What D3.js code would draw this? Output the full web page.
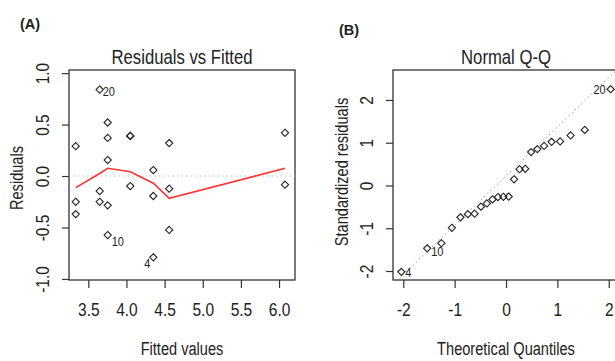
<!DOCTYPE html>
<html>
<head>
<meta charset="utf-8">
<script src="https://cdn.jsdelivr.net/npm/d3@7"></script>
<style>
  body { margin: 0; background: #fff; }
  svg text { font-family: "Liberation Sans", Arial, sans-serif; fill: #222; }
</style>
</head>
<body>
<div id="chart"></div>
<script>

// (A) residuals vs fitted
const fittedA = [3.335,3.335,3.335, 3.649,3.649,3.649, 3.754,3.754,3.754,3.754,3.754,
	4.05,4.05,4.05, 4.352,4.352,4.352, 4.56,4.56,4.56, 6.078,6.078];
const residA = [0.29,-0.25,-0.37, 0.84,-0.146,-0.25, 0.52,0.37,0.155,-0.285,-0.573,
	0.39,0.39,-0.097, 0.058,-0.194,-0.79, 0.32,-0.123,-0.524, 0.42,-0.084];
const idA = ["","","", "20","","", "","","","","10", "","","", "","","4", "","","", "",""];
const smoothX = [3.335, 3.649, 3.754, 4.05, 4.352, 4.56, 6.078];
const smoothY = [-0.113, 0.025, 0.075, 0.042, -0.07, -0.217, 0.075];
const xTicksA = [3.5, 4.0, 4.5, 5.0, 5.5, 6.0];
const yTicksA = [-1.0, -0.5, 0.0, 0.5, 1.0];

// (B) normal Q-Q
const theoQ = [-2.037,-1.534,-1.258,-1.054,-0.887,-0.742,-0.611,-0.489,-0.374,-0.264,-0.157,-0.052,
	0.052,0.157,0.264,0.374,0.489,0.611,0.742,0.887,1.054,1.258,1.534,2.037];
const stdResid = [-2.02,-1.47,-1.35,-0.99,-0.745,-0.67,-0.66,-0.495,-0.42,-0.325,-0.27,-0.265,
	-0.26,0.145,0.38,0.39,0.78,0.85,0.925,1.02,1.03,1.17,1.30,2.25];
const idB = ["4","10","","","","","","","","","","", "","","","","","","","","","","","20"];
const qqIntercept = 0.22, qqSlope = 1.15;
const xTicksB = [-2, -1, 0, 1, 2];
const yTicksB = [-2, -1, 0, 1, 2];

const W = 615, H = 361;
const S = 1.22; // tall narrow look of the R text
const svg = d3.select("#chart").append("svg")
	.attr("width", W)
	.attr("height", H);

svg.append("rect").attr("width", W).attr("height", H).attr("fill", "#fff");

const diamond = "M0,-3.6L3.6,0L0,3.6L-3.6,0Z";

function panel(o) {
	const g = svg.append("g");
	const x = d3.scaleLinear().domain(o.xDom).range([o.l, o.r]);
	const y = d3.scaleLinear().domain(o.yDom).range([o.b, o.t]);

	const clipId = "clip" + o.key;
	g.append("clipPath").attr("id", clipId)
		.append("rect")
		.attr("x", o.l).attr("y", o.t)
		.attr("width", o.r - o.l).attr("height", o.b - o.t);

	// x axis
	const xa = g.append("g")
		.attr("transform", `translate(0,${o.b})`)
		.call(d3.axisBottom(x).tickValues(o.xTicks).tickSize(8).tickFormat(o.fmt));
	xa.select(".domain").remove();
	xa.selectAll("line").attr("stroke", "#333").attr("stroke-width", 1.2);
	xa.selectAll("text")
		.attr("y", null).attr("dy", null)
		.attr("transform", `translate(0,36) scale(1,${S})`)
		.style("font-size", "15.5px");

	// y axis with rotated labels like R
	const ya = g.append("g")
		.attr("transform", `translate(${o.l},0)`)
		.call(d3.axisLeft(y).tickValues(o.yTicks).tickSize(7).tickFormat(o.fmt));
	ya.select(".domain").remove();
	ya.selectAll("line").attr("stroke", "#333").attr("stroke-width", 1.2);
	ya.selectAll("text")
		.attr("x", null).attr("dy", null)
		.attr("text-anchor", "middle")
		.attr("transform", `translate(-20,0) rotate(-90) scale(1,${S})`)
		.style("font-size", "15.5px");

	// box
	g.append("rect")
		.attr("x", o.l).attr("y", o.t)
		.attr("width", o.r - o.l).attr("height", o.b - o.t)
		.attr("fill", "none")
		.attr("stroke", "#333")
		.attr("stroke-width", 1.3);

	g.append("text")
		.attr("transform", `translate(${(o.l + o.r) / 2},64) scale(1,${S})`)
		.attr("text-anchor", "middle")
		.style("font-size", "16.7px")
		.text(o.title);

	g.append("text")
		.attr("transform", `translate(${(o.l + o.r) / 2},355) scale(1,${S})`)
		.attr("text-anchor", "middle")
		.style("font-size", "14.6px")
		.text(o.xTitle);

	g.append("text")
		.attr("transform", `translate(${o.yTitleX},${o.yTitleY}) rotate(-90) scale(1,${S})`)
		.attr("text-anchor", "middle")
		.style("font-size", "14.6px")
		.text(o.yTitle);

	return {g, x, y, clipId};
}

const fmt1 = d => d.toFixed(1);
const fmt0 = d => String(d);

// ---- panel A
const A = panel({key: "A", l: 69, r: 295, t: 70, b: 280,
	xDom: [3.247, 6.209], yDom: [-1.01, 1.03],
	xTicks: xTicksA, yTicks: yTicksA, fmt: fmt1,
	title: "Residuals vs Fitted", xTitle: "Fitted values", yTitle: "Residuals",
	yTitleX: 23, yTitleY: 178});

A.g.append("line")
	.attr("x1", 69).attr("x2", 295)
	.attr("y1", A.y(0)).attr("y2", A.y(0))
	.attr("stroke", "#bbb")
	.attr("stroke-dasharray", "1.5,3");

A.g.append("path")
	.datum(smoothX.map((d, i) => [d, smoothY[i]]))
	.attr("d", d3.line().x(d => A.x(d[0])).y(d => A.y(d[1])))
	.attr("fill", "none")
	.attr("stroke", "#f33")
	.attr("stroke-width", 1.6);

A.g.selectAll(".pt")
	.data(fittedA.map((d, i) => ({x: d, y: residA[i], id: idA[i]})))
	.enter().append("path")
	.attr("class", "pt")
	.attr("d", diamond)
	.attr("transform", d => `translate(${A.x(d.x)},${A.y(d.y)})`)
	.attr("fill", "none")
	.attr("stroke", "#222")
	.attr("stroke-width", 1.1);

const offA = {"20": [3, 6, "start"], "10": [4, 10.5, "start"], "4": [-3, 10.5, "end"]};
A.g.selectAll(".lab")
	.data(fittedA.map((d, i) => ({x: d, y: residA[i], id: idA[i]})).filter(d => d.id))
	.enter().append("text")
	.attr("transform", d => `translate(${A.x(d.x) + offA[d.id][0]},${A.y(d.y) + offA[d.id][1]}) scale(1,${S})`)
	.attr("text-anchor", d => offA[d.id][2])
	.style("font-size", "11px")
	.text(d => d.id);

// ---- panel B
const B = panel({key: "B", l: 393, r: 619, t: 70, b: 280,
	xDom: [-2.2, 2.2], yDom: [-2.21, 2.70],
	xTicks: xTicksB, yTicks: yTicksB, fmt: fmt0,
	title: "Normal Q-Q", xTitle: "Theoretical Quantiles", yTitle: "Standardized residuals",
	yTitleX: 348, yTitleY: 172});

B.g.append("line")
	.attr("clip-path", `url(#${B.clipId})`)
	.attr("x1", B.x(-2.2)).attr("x2", B.x(2.2))
	.attr("y1", B.y(qqIntercept + qqSlope * -2.2))
	.attr("y2", B.y(qqIntercept + qqSlope * 2.2))
	.attr("stroke", "#999")
	.attr("stroke-dasharray", "1.5,3");

B.g.selectAll(".pt")
	.data(theoQ.map((d, i) => ({x: d, y: stdResid[i], id: idB[i]})))
	.enter().append("path")
	.attr("class", "pt")
	.attr("d", diamond)
	.attr("transform", d => `translate(${B.x(d.x)},${B.y(d.y)})`)
	.attr("fill", "none")
	.attr("stroke", "#222")
	.attr("stroke-width", 1.1);

const offB = {"20": [-5, 4.5, "end"], "10": [4, 8, "start"], "4": [4, 5.5, "start"]};
B.g.selectAll(".lab")
	.data(theoQ.map((d, i) => ({x: d, y: stdResid[i], id: idB[i]})).filter(d => d.id))
	.enter().append("text")
	.attr("transform", d => `translate(${B.x(d.x) + offB[d.id][0]},${B.y(d.y) + offB[d.id][1]}) scale(1,${S})`)
	.attr("text-anchor", d => offB[d.id][2])
	.style("font-size", "11px")
	.text(d => d.id);

// panel tags
svg.append("text").attr("x", 20).attr("y", 29)
	.style("font-weight", "bold").style("font-size", "14.5px")
	.text("(A)");
svg.append("text").attr("x", 339).attr("y", 35)
	.style("font-weight", "bold").style("font-size", "14.5px")
	.text("(B)");

</script>
</body>
</html>
